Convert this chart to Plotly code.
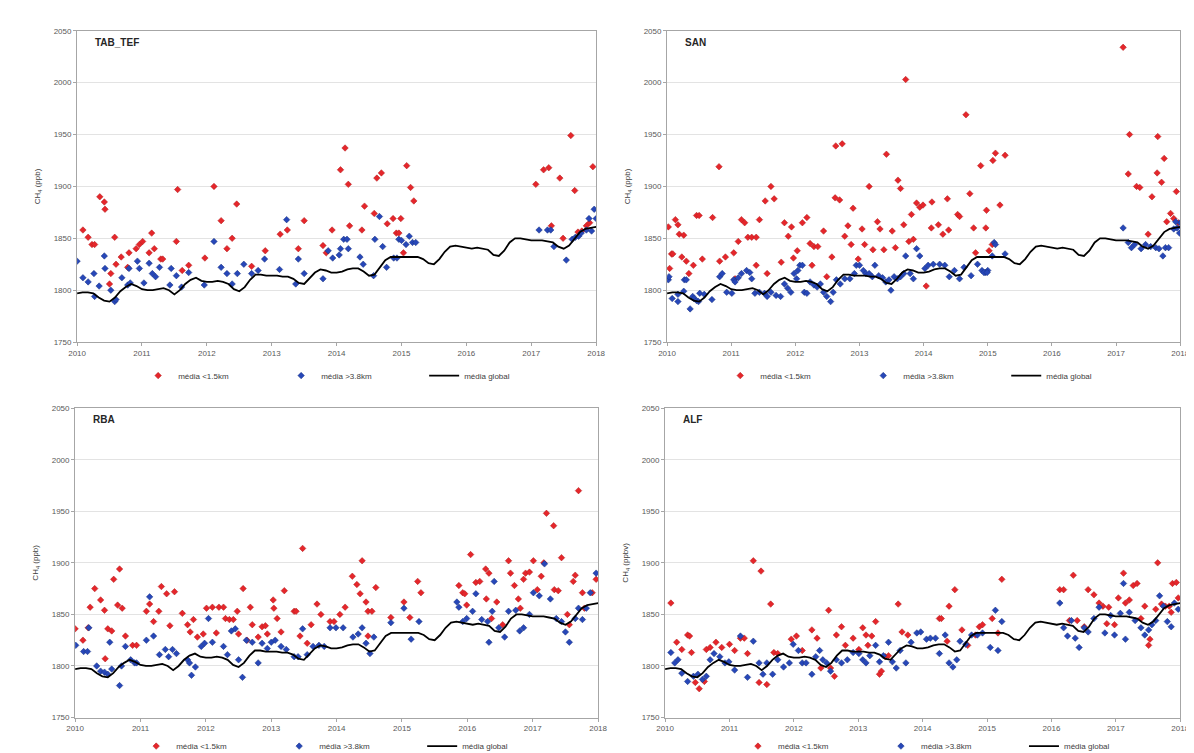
import plotly.graph_objects as go

# ---------------- data ----------------
panels = ["TAB_TEF", "SAN", "RBA", "ALF"]
y_titles = ["CH<sub>4</sub> (ppb)", "CH<sub>4</sub> (ppb)", "CH<sub>4</sub> (ppb)", "CH<sub>4</sub> (ppbv)"]
x_ticks = [2010, 2011, 2012, 2013, 2014, 2015, 2016, 2017, 2018]
y_ticks = [1750, 1800, 1850, 1900, 1950, 2000, 2050]
legend_names = ["média <1.5km", "média >3.8km", "média global"]

# global mean (monthly, Jan 2010 .. Jan 2018)
global_mean = [
    1797, 1798, 1798, 1797, 1793, 1790, 1789, 1793, 1799, 1803, 1806, 1804,
    1801, 1800, 1800, 1801, 1802, 1800, 1796, 1800, 1806, 1810, 1812, 1809,
    1808, 1808, 1809, 1808, 1806, 1801, 1799, 1803, 1810, 1815, 1815, 1814,
    1814, 1814, 1813, 1813, 1811, 1807, 1806, 1811, 1817, 1820, 1819, 1817,
    1817, 1818, 1820, 1821, 1821, 1818, 1814, 1815, 1822, 1829, 1832, 1832,
    1832, 1832, 1832, 1832, 1830, 1826, 1825, 1830, 1837, 1842, 1843, 1842,
    1841, 1840, 1841, 1840, 1839, 1834, 1833, 1838, 1846, 1850, 1850, 1849,
    1848, 1848, 1848, 1847, 1846, 1842, 1840, 1843, 1850, 1856, 1859, 1860,
    1861,
]
global_x = [2010 + i / 12 for i in range(len(global_mean))]

# TAB_TEF
tab_low_x = [2010.09, 2010.17, 2010.23, 2010.27, 2010.35, 2010.42, 2010.43, 2010.58, 2010.52, 2010.50,
             2010.60, 2010.68, 2010.78, 2010.80, 2010.91, 2010.96, 2011.01, 2011.15, 2011.19, 2011.11,
             2011.29, 2011.32, 2011.53, 2011.55, 2011.62, 2011.72, 2011.97, 2012.11, 2012.22, 2012.31,
             2012.39, 2012.46, 2012.69, 2012.90, 2013.13, 2013.24, 2013.41, 2013.50, 2013.79, 2013.84,
             2013.93, 2014.06, 2014.13, 2014.18, 2014.20, 2014.39, 2014.43, 2014.58, 2014.62, 2014.69,
             2014.78, 2014.87, 2014.92, 2015.03, 2015.08, 2015.14, 2015.19, 2014.99, 2014.96,
             2017.07, 2017.19, 2017.27, 2017.44, 2017.61, 2017.67, 2017.95, 2017.31, 2017.49, 2017.72,
             2017.78, 2017.85, 2017.90]
tab_low_y = [1858, 1851, 1844, 1844, 1890, 1885, 1878, 1851, 1816, 1806,
             1825, 1832, 1822, 1836, 1840, 1844, 1847, 1855, 1840, 1836,
             1830, 1830, 1847, 1897, 1819, 1824, 1831, 1900, 1867, 1840,
             1850, 1883, 1823, 1838, 1854, 1858, 1840, 1867, 1843, 1836,
             1858, 1916, 1937, 1902, 1862, 1858, 1881, 1874, 1908, 1913,
             1864, 1869, 1855, 1836, 1920, 1899, 1886, 1869, 1855,
             1902, 1916, 1918, 1908, 1949, 1896, 1919, 1862, 1850, 1856,
             1857, 1862, 1865]
tab_high_x = [2010.00, 2010.09, 2010.17, 2010.26, 2010.27, 2010.34, 2010.42, 2010.43, 2010.52, 2010.58,
              2010.60, 2010.69, 2010.78, 2010.80, 2010.82, 2010.93, 2010.96, 2011.03, 2011.11, 2011.16,
              2011.21, 2011.27, 2011.43, 2011.45, 2011.53, 2011.61, 2011.72, 2011.96, 2012.11, 2012.22,
              2012.31, 2012.39, 2012.47, 2012.57, 2012.69, 2012.79, 2012.89, 2013.12, 2013.23, 2013.37,
              2013.41, 2013.50, 2013.79, 2013.87, 2013.94, 2014.04, 2014.06, 2014.11, 2014.16, 2014.18,
              2014.36, 2014.41, 2014.57, 2014.59, 2014.66, 2014.71, 2014.77, 2014.88, 2014.96, 2015.00,
              2015.07, 2015.12, 2015.17, 2015.22, 2014.93,
              2017.12, 2017.25, 2017.30, 2017.35, 2017.54, 2017.63, 2017.68, 2017.73, 2017.77, 2017.85,
              2017.89, 2017.97, 2018.00, 2017.93]
tab_high_y = [1828, 1812, 1808, 1816, 1794, 1804, 1833, 1821, 1800, 1789,
              1791, 1812, 1805, 1821, 1807, 1828, 1821, 1807, 1826, 1816,
              1813, 1822, 1805, 1821, 1814, 1803, 1817, 1805, 1847, 1822,
              1816, 1806, 1816, 1825, 1816, 1819, 1830, 1820, 1868, 1806,
              1830, 1816, 1811, 1838, 1831, 1834, 1840, 1849, 1849, 1840,
              1832, 1825, 1814, 1849, 1871, 1842, 1822, 1831, 1849, 1848,
              1844, 1852, 1846, 1846, 1831,
              1858, 1858, 1858, 1842, 1829, 1849, 1851, 1852, 1855, 1858,
              1869, 1878, 1869, 1857]

# SAN
san_low_x = [2010.02, 2010.04, 2010.07, 2010.09, 2010.13, 2010.17, 2010.19, 2010.26, 2010.23, 2010.30,
             2010.34, 2010.41, 2010.46, 2010.50, 2010.55, 2010.71, 2010.81, 2010.82, 2010.91, 2011.04,
             2011.06, 2011.11, 2011.16, 2011.21, 2011.26, 2011.32, 2011.39, 2011.44, 2011.39, 2011.53,
             2011.56, 2011.62, 2011.67, 2011.78, 2011.83, 2011.89, 2011.94, 2011.97, 2012.03, 2012.11,
             2012.18, 2012.23, 2012.26, 2012.29, 2012.35, 2012.44, 2012.49, 2012.57, 2012.63, 2012.73,
             2012.62, 2012.69, 2012.77, 2012.82, 2012.90, 2012.87, 2012.98, 2013.04, 2013.08, 2013.15,
             2013.21, 2013.28, 2013.32, 2013.38, 2013.42, 2013.51, 2013.56, 2013.60, 2013.64, 2013.69,
             2013.72, 2013.77, 2013.81, 2013.84, 2013.89, 2013.94, 2013.99, 2014.04, 2014.12, 2014.13,
             2014.23, 2014.30, 2014.37, 2014.39, 2014.53, 2014.56, 2014.66, 2014.72, 2014.78, 2014.81,
             2014.89, 2014.98, 2014.97, 2015.02, 2015.08, 2015.12, 2015.27, 2015.19, 2015.07,
             2017.11, 2017.21, 2017.19, 2017.32, 2017.37, 2017.56, 2017.65, 2017.75, 2017.64, 2017.71,
             2017.94, 2017.85, 2017.79, 2017.90, 2017.97, 2017.50]
san_low_y = [1861, 1821, 1835, 1835, 1868, 1863, 1854, 1853, 1832, 1828,
             1816, 1824, 1872, 1872, 1830, 1870, 1919, 1828, 1832, 1836,
             1811, 1847, 1868, 1865, 1851, 1851, 1851, 1868, 1824, 1886,
             1816, 1900, 1888, 1827, 1865, 1852, 1861, 1831, 1838, 1865,
             1870, 1845, 1824, 1842, 1842, 1857, 1813, 1832, 1939, 1941,
             1889, 1887, 1852, 1862, 1879, 1844, 1830, 1859, 1844, 1900,
             1839, 1866, 1859, 1839, 1931, 1857, 1841, 1906, 1898, 1863,
             2003, 1847, 1873, 1849, 1884, 1880, 1882, 1804, 1860, 1885,
             1863, 1854, 1888, 1858, 1873, 1871, 1969, 1893, 1860, 1836,
             1920, 1877, 1860, 1838, 1925, 1932, 1930, 1882, 1844,
             2034, 1950, 1912, 1900, 1899, 1890, 1948, 1927, 1913, 1904,
             1895, 1874, 1866, 1869, 1865, 1854]
san_high_x = [2010.02, 2010.03, 2010.08, 2010.17, 2010.17, 2010.26, 2010.27, 2010.30, 2010.36, 2010.40,
              2010.42, 2010.46, 2010.49, 2010.51, 2010.58, 2010.70, 2010.82, 2010.86, 2010.93, 2011.01,
              2011.04, 2011.06, 2011.11, 2011.16, 2011.24, 2011.29, 2011.32, 2011.37, 2011.44, 2011.52,
              2011.56, 2011.62, 2011.70, 2011.77, 2011.83, 2011.88, 2011.93, 2011.98, 2012.02, 2012.04,
              2012.07, 2012.11, 2012.14, 2012.18, 2012.23, 2012.29, 2012.34, 2012.39, 2012.44, 2012.49,
              2012.55, 2012.59, 2012.64, 2012.70, 2012.77, 2012.85, 2012.92, 2012.95, 2013.00, 2013.06,
              2013.10, 2013.15, 2013.20, 2013.24, 2013.30, 2013.36, 2013.41, 2013.46, 2013.49, 2013.54,
              2013.59, 2013.64, 2013.69, 2013.72, 2013.79, 2013.84, 2013.89, 2013.94, 2014.02, 2014.07,
              2014.15, 2014.25, 2014.33, 2014.40, 2014.48, 2014.56, 2014.63, 2014.74, 2014.84, 2014.91,
              2014.96, 2015.00, 2014.94, 2014.99, 2015.07, 2015.10, 2015.12, 2015.27,
              2017.11, 2017.19, 2017.24, 2017.29, 2017.39, 2017.46, 2017.54, 2017.62, 2017.67, 2017.73,
              2017.77, 2017.82, 2017.90, 2017.95, 2018.00, 2017.93, 2017.99]
san_high_y = [1810, 1813, 1792, 1789, 1796, 1799, 1810, 1810, 1782, 1794,
              1792, 1790, 1789, 1797, 1796, 1791, 1813, 1816, 1798, 1797,
              1810, 1808, 1812, 1816, 1819, 1817, 1811, 1797, 1798, 1797,
              1794, 1798, 1795, 1794, 1806, 1802, 1798, 1816, 1811, 1819,
              1824, 1824, 1798, 1797, 1808, 1805, 1803, 1806, 1798, 1794,
              1789, 1798, 1810, 1806, 1811, 1811, 1816, 1824, 1824, 1819,
              1816, 1816, 1813, 1824, 1814, 1812, 1808, 1810, 1800, 1813,
              1811, 1813, 1816, 1833, 1816, 1811, 1840, 1833, 1821, 1824,
              1825, 1825, 1824, 1813, 1819, 1811, 1822, 1814, 1825, 1819,
              1817, 1819, 1817, 1817, 1833, 1846, 1844, 1835,
              1860, 1846, 1841, 1844, 1840, 1844, 1842, 1841, 1840, 1833,
              1841, 1841, 1859, 1860, 1865, 1866, 1855]

# RBA
rba_low_x = [2010.00, 2010.12, 2010.20, 2010.23, 2010.30, 2010.39, 2010.45, 2010.50, 2010.46, 2010.56,
             2010.59, 2010.65, 2010.68, 2010.72, 2010.77, 2010.88, 2010.94, 2011.09, 2011.14, 2011.20,
             2011.28, 2011.32, 2011.45, 2011.40, 2011.52, 2011.64, 2011.72, 2011.76, 2011.81, 2011.87,
             2011.96, 2012.01, 2012.10, 2012.16, 2012.20, 2012.27, 2012.30, 2012.36, 2012.42, 2012.48,
             2012.50, 2012.57, 2012.63, 2012.68, 2012.71, 2012.80, 2012.86, 2012.91, 2012.94, 2013.03,
             2013.04, 2013.09, 2013.15, 2013.20, 2013.35, 2013.38, 2013.48, 2013.44, 2013.55, 2013.61,
             2013.70, 2013.76, 2013.90, 2013.96, 2014.05, 2014.13, 2014.24, 2014.31, 2014.36, 2014.39,
             2014.45, 2014.48, 2014.54, 2014.60, 2014.48, 2014.83, 2015.03, 2015.12, 2015.24, 2015.29,
             2015.87, 2015.93, 2015.96, 2015.99, 2016.05, 2016.13, 2016.19, 2016.28, 2016.29, 2016.33,
             2016.37, 2016.45, 2016.54, 2016.63, 2016.66, 2016.72, 2016.78, 2016.81, 2016.86, 2016.89,
             2016.95, 2017.01, 2017.07, 2017.13, 2017.17, 2017.21, 2017.32, 2017.33, 2017.39, 2017.44,
             2017.53, 2017.56, 2017.62, 2017.65, 2017.70, 2017.76, 2017.79, 2017.91, 2017.97]
rba_low_y = [1836, 1825, 1837, 1857, 1875, 1864, 1854, 1836, 1807, 1834,
             1884, 1859, 1894, 1856, 1829, 1820, 1820, 1853, 1860, 1843,
             1853, 1877, 1839, 1870, 1872, 1851, 1840, 1833, 1845, 1828,
             1831, 1856, 1857, 1832, 1857, 1857, 1846, 1845, 1845, 1853,
             1831, 1875, 1825, 1857, 1840, 1828, 1838, 1839, 1831, 1864,
             1856, 1846, 1833, 1873, 1853, 1853, 1914, 1829, 1822, 1840,
             1860, 1850, 1843, 1843, 1850, 1857, 1887, 1879, 1870, 1902,
             1862, 1853, 1853, 1876, 1829, 1847, 1862, 1847, 1882, 1871,
             1878, 1871, 1870, 1859, 1908, 1881, 1882, 1894, 1865, 1890,
             1846, 1862, 1840, 1902, 1890, 1878, 1865, 1856, 1884, 1890,
             1891, 1902, 1874, 1887, 1900, 1948, 1936, 1874, 1873, 1905,
             1850, 1840, 1882, 1888, 1970, 1871, 1856, 1871, 1884]
rba_high_x = [2010.01, 2010.13, 2010.19, 2010.21, 2010.33, 2010.39, 2010.45, 2010.50, 2010.53, 2010.56,
              2010.68, 2010.71, 2010.77, 2010.85, 2010.91, 2010.94, 2011.09, 2011.14, 2011.20, 2011.29,
              2011.38, 2011.43, 2011.49, 2011.55, 2011.72, 2011.75, 2011.78, 2011.84, 2011.93, 2011.98,
              2012.04, 2012.10, 2012.27, 2012.33, 2012.39, 2012.45, 2012.50, 2012.56, 2012.62, 2012.71,
              2012.80, 2012.86, 2012.94, 2013.00, 2013.06, 2013.15, 2013.23, 2013.35, 2013.41, 2013.48,
              2013.55, 2013.64, 2013.73, 2013.81, 2013.90, 2013.99, 2014.10, 2014.25, 2014.33, 2014.39,
              2014.45, 2014.51, 2014.57, 2014.83, 2015.03, 2015.14, 2015.26, 2015.84, 2015.87, 2015.93,
              2015.99, 2016.08, 2016.13, 2016.22, 2016.31, 2016.33, 2016.38, 2016.41, 2016.48, 2016.57,
              2016.63, 2016.74, 2016.80, 2016.86, 2016.95, 2017.01, 2017.10, 2017.18, 2017.27, 2017.36,
              2017.44, 2017.50, 2017.56, 2017.65, 2017.70, 2017.76, 2017.82, 2017.88, 2017.97]
rba_high_y = [1820, 1814, 1814, 1837, 1800, 1795, 1794, 1792, 1823, 1797,
              1781, 1800, 1819, 1806, 1803, 1803, 1825, 1867, 1829, 1811,
              1816, 1809, 1816, 1812, 1806, 1803, 1791, 1799, 1819, 1822,
              1846, 1823, 1819, 1811, 1834, 1836, 1806, 1789, 1825, 1823,
              1803, 1822, 1817, 1823, 1825, 1819, 1816, 1809, 1809, 1836,
              1811, 1819, 1820, 1819, 1837, 1837, 1837, 1828, 1831, 1837,
              1822, 1812, 1828, 1842, 1856, 1826, 1843, 1862, 1857, 1843,
              1846, 1853, 1870, 1845, 1843, 1823, 1853, 1882, 1837, 1828,
              1853, 1854, 1834, 1837, 1850, 1871, 1868, 1899, 1865, 1846,
              1843, 1833, 1823, 1846, 1856, 1845, 1856, 1871, 1890]

# ALF
alf_low_x = [2010.09, 2010.18, 2010.26, 2010.35, 2010.38, 2010.41, 2010.47, 2010.53, 2010.61, 2010.64,
             2010.70, 2010.79, 2010.88, 2011.00, 2011.08, 2011.17, 2011.23, 2011.28, 2011.37, 2011.49,
             2011.46, 2011.58, 2011.64, 2011.69, 2011.75, 2011.96, 2012.04, 2012.13, 2012.28, 2012.36,
             2012.42, 2012.54, 2012.57, 2012.63, 2012.66, 2012.74, 2012.80, 2012.92, 2013.01, 2013.07,
             2013.12, 2013.15, 2013.21, 2013.27, 2013.33, 2013.36, 2013.42, 2013.47, 2013.62, 2013.68,
             2013.77, 2014.26, 2014.29, 2014.38, 2014.41, 2014.50, 2014.61, 2014.70, 2014.82, 2014.88,
             2014.93, 2015.08, 2015.17, 2015.23, 2016.13, 2016.19, 2016.28, 2016.34, 2016.40, 2016.51,
             2016.57, 2016.66, 2016.74, 2016.80, 2016.86, 2016.89, 2016.98, 2017.04, 2017.12, 2017.15,
             2017.21, 2017.27, 2017.33, 2017.39, 2017.45, 2017.51, 2017.53, 2017.62, 2017.65, 2017.71,
             2017.77, 2017.83, 2017.86, 2017.88, 2017.94, 2017.97]
alf_low_y = [1861, 1823, 1816, 1830, 1829, 1813, 1784, 1778, 1785, 1816,
             1818, 1823, 1818, 1821, 1815, 1827, 1827, 1812, 1902, 1892,
             1784, 1782, 1860, 1813, 1812, 1826, 1829, 1815, 1835, 1827,
             1798, 1854, 1798, 1790, 1830, 1838, 1820, 1827, 1816, 1837,
             1830, 1820, 1829, 1843, 1792, 1795, 1809, 1810, 1860, 1833,
             1830, 1846, 1846, 1824, 1858, 1874, 1835, 1820, 1830, 1838,
             1840, 1846, 1832, 1884, 1874, 1874, 1844, 1888, 1844, 1838,
             1874, 1869, 1861, 1858, 1841, 1857, 1840, 1866, 1890, 1861,
             1864, 1878, 1880, 1846, 1858, 1820, 1826, 1855, 1900, 1860,
             1858, 1858, 1852, 1880, 1881, 1866]
alf_high_x = [2010.09, 2010.15, 2010.20, 2010.26, 2010.35, 2010.44, 2010.51, 2010.58, 2010.64, 2010.70,
              2010.76, 2010.85, 2010.93, 2010.99, 2011.08, 2011.17, 2011.28, 2011.37, 2011.46, 2011.52,
              2011.58, 2011.67, 2011.75, 2011.84, 2011.93, 2011.99, 2012.07, 2012.13, 2012.19, 2012.28,
              2012.34, 2012.40, 2012.45, 2012.51, 2012.57, 2012.66, 2012.74, 2012.83, 2012.92, 2013.01,
              2013.07, 2013.12, 2013.18, 2013.27, 2013.33, 2013.39, 2013.47, 2013.53, 2013.59, 2013.65,
              2013.74, 2013.82, 2013.91, 2013.97, 2014.06, 2014.12, 2014.20, 2014.26, 2014.35, 2014.41,
              2014.47, 2014.53, 2014.58, 2014.67, 2014.76, 2014.85, 2014.93, 2015.05, 2015.13, 2015.17,
              2015.23, 2016.13, 2016.19, 2016.25, 2016.31, 2016.37, 2016.43, 2016.51, 2016.57, 2016.66,
              2016.74, 2016.83, 2016.92, 2016.98, 2017.07, 2017.12, 2017.15, 2017.21, 2017.30, 2017.39,
              2017.45, 2017.51, 2017.56, 2017.62, 2017.68, 2017.74, 2017.80, 2017.86, 2017.91, 2017.97]
alf_high_y = [1813, 1803, 1806, 1793, 1785, 1790, 1792, 1787, 1790, 1806,
              1812, 1809, 1803, 1804, 1796, 1829, 1789, 1824, 1803, 1792,
              1803, 1792, 1806, 1799, 1803, 1821, 1815, 1803, 1803, 1792,
              1809, 1815, 1806, 1803, 1795, 1806, 1803, 1806, 1813, 1812,
              1806, 1803, 1810, 1820, 1804, 1810, 1823, 1804, 1798, 1815,
              1803, 1823, 1832, 1833, 1826, 1827, 1827, 1812, 1830, 1803,
              1799, 1806, 1824, 1821, 1830, 1830, 1832, 1818, 1854, 1815,
              1843, 1861, 1837, 1829, 1844, 1827, 1818, 1837, 1833, 1846,
              1857, 1832, 1849, 1830, 1851, 1880, 1826, 1852, 1844, 1837,
              1830, 1835, 1840, 1844, 1868, 1858, 1843, 1838, 1861, 1855]

low_x = [tab_low_x, san_low_x, rba_low_x, alf_low_x]
low_y = [tab_low_y, san_low_y, rba_low_y, alf_low_y]
high_x = [tab_high_x, san_high_x, rba_high_x, alf_high_x]
high_y = [tab_high_y, san_high_y, rba_high_y, alf_high_y]

# ---------------- layout geometry ----------------
W, H = 1194, 753
# plot areas in pixels: (left, right, top, bottom)
boxes = [(61, 588, 19, 335), (660, 1181, 19, 335), (59, 590, 402, 716), (658, 1181, 402, 716)]
legend_pos = [(123, 369), (714, 369), (121, 745), (732, 745)]

RED = "#e5262b"
BLUE = "#2747b8"
FONT = "Liberation Sans, Arial, sans-serif"

fig = go.Figure()
layout = dict(
    width=W, height=H, margin=dict(l=0, r=0, t=0, b=0),
    paper_bgcolor="white", plot_bgcolor="white",
    font=dict(family=FONT, size=8, color="#404040"),
    showlegend=True,
)
annotations = []
for i in range(4):
    suffix = "" if i == 0 else str(i + 1)
    xa, ya = "x" + suffix, "y" + suffix
    leg = "legend" + suffix
    fig.add_trace(go.Scatter(
        x=low_x[i], y=low_y[i], mode="markers", name=legend_names[0],
        marker=dict(symbol="diamond", size=5, color=RED, line=dict(width=0.5, color="#b01c1c")),
        xaxis=xa, yaxis=ya, legend=leg))
    fig.add_trace(go.Scatter(
        x=high_x[i], y=high_y[i], mode="markers", name=legend_names[1],
        marker=dict(symbol="diamond", size=5, color=BLUE, line=dict(width=0.5, color="#17307e")),
        xaxis=xa, yaxis=ya, legend=leg))
    fig.add_trace(go.Scatter(
        x=global_x, y=global_mean, mode="lines", name=legend_names[2],
        line=dict(color="black", width=1.8),
        xaxis=xa, yaxis=ya, legend=leg))

    l, r, t, b = boxes[i]
    axis_common = dict(
        showline=True, linecolor="#a6a6a6", linewidth=1, mirror=True,
        ticks="outside", ticklen=3, tickcolor="#a6a6a6",
        tickfont=dict(size=8, color="#595959", family=FONT),
        zeroline=False, ticklabeloverflow="allow",
    )
    layout["xaxis" + suffix] = dict(
        domain=[l / W, r / W], anchor=ya, range=[2010, 2018],
        tickvals=x_ticks, ticktext=[str(v) for v in x_ticks],
        showgrid=False, **axis_common)
    layout["yaxis" + suffix] = dict(
        domain=[1 - b / H, 1 - t / H], anchor=xa, range=[1750, 2050],
        tickvals=y_ticks, showgrid=True, gridcolor="#e3e3e3", gridwidth=1,
        title=dict(text=y_titles[i], font=dict(size=8, color="#404040", family=FONT), standoff=11),
        **axis_common)
    lx, ly = legend_pos[i]
    layout[leg] = dict(
        x=lx / W, y=1 - ly / H, xanchor="left", yanchor="middle",
        orientation="h", entrywidth=98, entrywidthmode="pixels",
        font=dict(size=8, color="#404040", family=FONT),
        bgcolor="rgba(0,0,0,0)", itemwidth=30, tracegroupgap=0,
    )
    annotations.append(dict(
        text="<b>" + panels[i] + "</b>", xref="paper", yref="paper",
        x=(l + 16) / W, y=1 - (t + 12) / H, xanchor="left", yanchor="middle",
        showarrow=False, font=dict(size=10, color="#262626", family=FONT)))

layout["annotations"] = annotations
fig.update_layout(**layout)
fig.write_html("out.html")
